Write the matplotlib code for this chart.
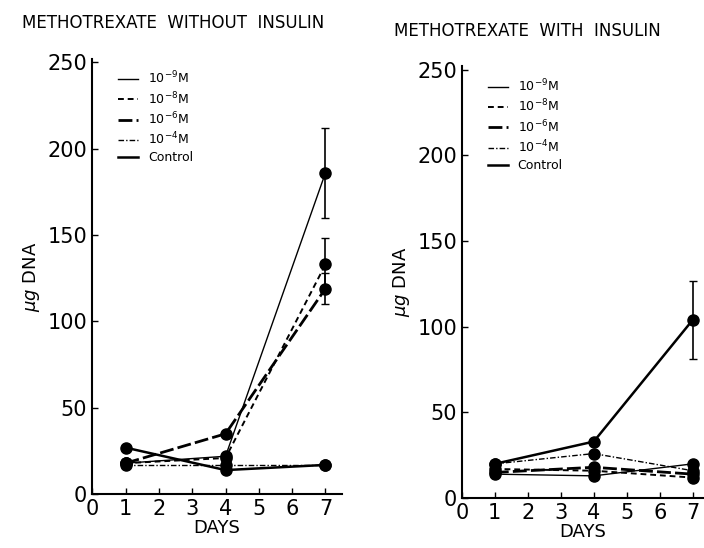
import matplotlib.pyplot as plt
from matplotlib.lines import Line2D

plt.rcParams['font.family'] = ['DejaVu Sans']

days = [1, 4, 7]
labels = ['10$^{-9}$M', '10$^{-8}$M', '10$^{-6}$M', '10$^{-4}$M', 'Control']

# without insulin
wo_m9 = [18, 22, 186]
wo_m8 = [18, 21, 133]
wo_m6 = [18, 35, 119]
wo_m4 = [17, 17, 17]
wo_ctl = [27, 14, 17]
wo_err_m9 = [0, 0, 26]
wo_err_m8 = [0, 0, 15]
wo_err_m6 = [0, 0, 9]

# with insulin
wi_m9 = [14, 13, 20]
wi_m8 = [17, 16, 12]
wi_m6 = [15, 18, 14]
wi_m4 = [20, 26, 16]
wi_ctl = [20, 33, 104]
wi_err_ctl = [0, 0, 23]

styles = [dict(ls='-', lw=1.0),
          dict(ls=(0, (3, 2)), lw=1.4),
          dict(ls=(0, (5, 1.5)), lw=2.0),
          dict(ls=(0, (4, 1.5, 1, 1.5)), lw=1.0),
          dict(ls='-', lw=1.8)]


def panel(ax, series, errs, title, xmax):
    for s, st in zip(series, styles):
        ax.plot(days, s, color='black', marker='o', ms=8, **st)
    for s, e in errs:
        ax.errorbar(days, s, yerr=e, fmt='none', ecolor='black',
                    elinewidth=1.2, capsize=3)
    ax.set_xlim(0, xmax)
    ax.set_ylim(0, 252)
    ax.set_xticks(range(8))
    ax.set_yticks(range(0, 251, 50))
    for sp in ['top', 'right']:
        ax.spines[sp].set_visible(False)
    ax.spines['left'].set_linewidth(1.5)
    ax.spines['bottom'].set_linewidth(1.5)
    ax.tick_params(direction='in', length=4, labelsize=15, width=1)
    ax.set_xlabel('DAYS', fontsize=13, labelpad=0)
    ax.set_ylabel('$\\mu g$ DNA', fontsize=13)
    ax.set_title(title, fontsize=12, loc='left', x=-0.28, pad=22)
    handles = [Line2D([], [], color='black', **st) for st in styles]
    ax.legend(handles, labels, loc='upper left', bbox_to_anchor=(0.06, 1.0),
              frameon=False, fontsize=9, handlelength=1.6, labelspacing=0.3)


fig = plt.figure(figsize=(7.04, 5.48), dpi=100)
ax1 = fig.add_axes([0.131, 0.098, 0.355, 0.795])
ax2 = fig.add_axes([0.656, 0.091, 0.342, 0.788])

panel(ax1, [wo_m9, wo_m8, wo_m6, wo_m4, wo_ctl],
      [(wo_m9, wo_err_m9), (wo_m8, wo_err_m8), (wo_m6, wo_err_m6)],
      'METHOTREXATE  WITHOUT  INSULIN', 7.5)
panel(ax2, [wi_m9, wi_m8, wi_m6, wi_m4, wi_ctl],
      [(wi_ctl, wi_err_ctl)],
      'METHOTREXATE  WITH  INSULIN', 7.3)

fig.savefig('out.png', dpi=100)
